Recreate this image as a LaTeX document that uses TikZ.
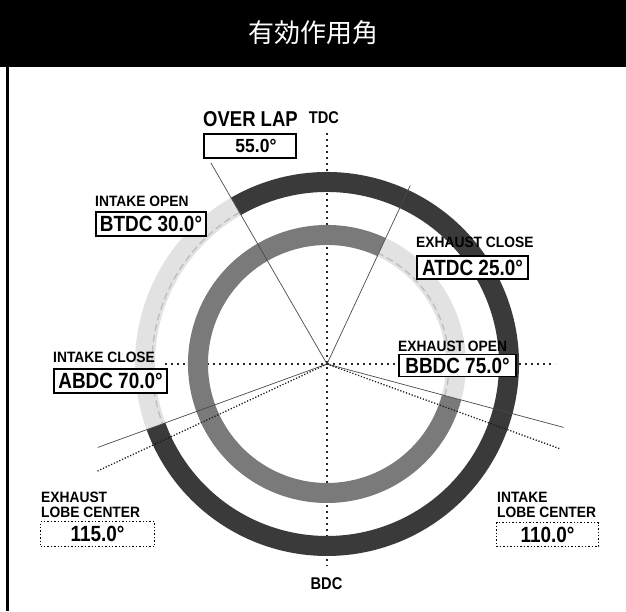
\documentclass[tikz,border=0pt]{standalone}
\usepackage{fontspec}
\usetikzlibrary{calc}
\setmainfont{Liberation Sans}
\newfontfamily\labfont[FakeStretch=0.92]{Liberation Sans}
\newfontfamily\valfont[FakeStretch=0.86]{Liberation Sans}
\newfontfamily\cjk{Noto Sans CJK JP}
\definecolor{ringdark}{HTML}{3A3A3A}
\definecolor{ringmid}{HTML}{7A7A7A}
\definecolor{ringlight}{HTML}{E2E2E2}
\definecolor{ringdash}{HTML}{BDBDBD}
\definecolor{linegray}{HTML}{4A4A4A}
\begin{document}
\begin{tikzpicture}[x=1pt,y=1pt,
  lab/.style={font=\labfont\bfseries\fontsize{15}{15}\selectfont, inner sep=0pt, anchor=base west},
  valbox/.style={draw, line width=1.8pt, fill=white, inner sep=0pt,
    font=\valfont\bfseries\fontsize{22}{22}\selectfont},
  dotbox/.style={draw, line width=1.4pt, dash pattern=on 1.4pt off 2pt, fill=white, inner sep=0pt,
    font=\valfont\bfseries\fontsize{22}{22}\selectfont},
  thinline/.style={draw=linegray, line width=0.7pt},
  bigdot/.style={draw=black!85, line width=1.6pt, dash pattern=on 1.8pt off 4.2pt},
  smalldot/.style={draw=black!90, line width=1.3pt, dash pattern=on 1.2pt off 1.8pt},
  bandline/.style={line width=20pt}]
\useasboundingbox (0,0) rectangle (626,611);
% header and frame
\fill[black] (0,544) rectangle (626,611);
\fill[black] (5.5,0) rectangle (8.5,544);
\node[text=white, font=\cjk\fontsize{26}{26}\selectfont] (title) at (313,578) {有効作用角};
% geometry
\coordinate (C) at (327,247);
\coordinate (tdcTop) at (327,478);
\coordinate (bdcBot) at (327,45);
\coordinate (hLeft) at (165,247);
\coordinate (hRight) at (555,247);
% dotted axes (under rings)
\draw[bigdot] (tdcTop) -- (bdcBot);
\draw[bigdot] (hLeft) -- (hRight);
% outer ring (intake)
\draw[ringdark, bandline] ([shift={(120:182)}]C) arc[start angle=120, end angle=-160, radius=182];
\draw[ringlight, bandline] ([shift={(120:182)}]C) arc[start angle=120, end angle=200, radius=182];
\draw[ringdash, line width=1.3pt, dash pattern=on 7pt off 4pt] ([shift={(120:175)}]C) arc[start angle=120, end angle=200, radius=175];
% inner ring (exhaust)
\draw[ringmid, bandline] ([shift={(65:129)}]C) arc[start angle=65, end angle=345, radius=129];
\draw[ringlight, bandline] ([shift={(-15:129)}]C) arc[start angle=-15, end angle=65, radius=129];
\draw[ringdash, line width=1.3pt, dash pattern=on 7pt off 4pt] ([shift={(-15:122)}]C) arc[start angle=-15, end angle=65, radius=122];
% event lines
\coordinate (eIO) at ($(C)+(120:232)$);
\coordinate (eEC) at ($(C)+(65:197)$);
\coordinate (eIC) at ($(C)+(200:244)$);
\coordinate (eEO) at ($(C)+(-15:245)$);
\coordinate (eELC) at ($(C)+(205:254)$);
\coordinate (eILC) at ($(C)+(-20:248)$);
\draw[thinline] (C) -- (eIO);
\draw[thinline] (C) -- (eEC);
\draw[thinline] (C) -- (eIC);
\draw[thinline] (C) -- (eEO);
\draw[smalldot] (C) -- (eELC);
\draw[smalldot] (C) -- (eILC);
% labels
\node[font=\valfont\bfseries\fontsize{17}{17}\selectfont, inner sep=0pt, anchor=base] (tdc) at (324,487) {TDC};
\node[font=\valfont\bfseries\fontsize{17}{17}\selectfont, inner sep=0pt, anchor=base] (bdc) at (326.5,22) {BDC};
\node[font=\valfont\bfseries\fontsize{21.5}{21.5}\selectfont, inner sep=0pt, anchor=base west] (ovl) at (203,484) {OVER LAP};
\node[valbox, minimum width=92pt, minimum height=24pt, font=\labfont\bfseries\fontsize{19}{19}\selectfont] (ovlv) at (250,465) {\hspace*{12pt}55.0°};
\node[lab] (io) at (95,404) {INTAKE OPEN};
\node[valbox, minimum width=110pt, minimum height=24pt] (iov) at (151,387) {BTDC 30.0°};
\node[lab] (ec) at (416,363) {EXHAUST CLOSE};
\node[valbox, minimum width=111pt, minimum height=23pt] (ecv) at (472.5,343.5) {ATDC 25.0°};
\node[lab] (eo) at (398,260) {EXHAUST OPEN};
\node[valbox, minimum width=117pt, minimum height=22pt] (eov) at (457.5,245.5) {BBDC 75.0°};
\node[lab] (ic) at (53,248) {INTAKE CLOSE};
\node[valbox, minimum width=113pt, minimum height=24pt] (icv) at (110.5,230) {ABDC 70.0°};
\node[lab] (elc1) at (41,109) {EXHAUST};
\node[lab] (elc2) at (41,94) {LOBE CENTER};
\node[dotbox, minimum width=114pt, minimum height=25pt] (elcv) at (97.5,77) {115.0°};
\node[lab] (ilc1) at (497,109) {INTAKE};
\node[lab] (ilc2) at (497,94) {LOBE CENTER};
\node[dotbox, minimum width=102pt, minimum height=24pt] (ilcv) at (547.5,76.5) {110.0°};
\end{tikzpicture}
\end{document}
